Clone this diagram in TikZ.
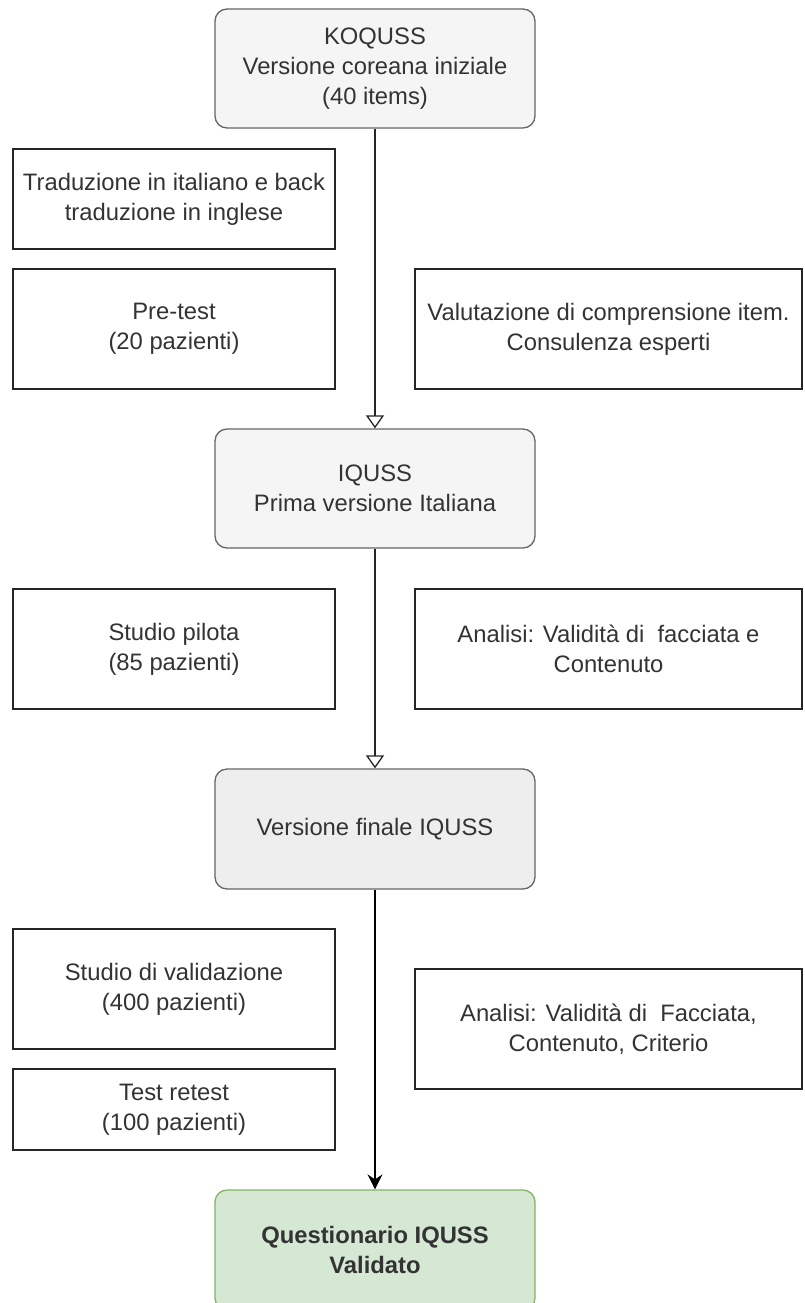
\documentclass[tikz,border=0pt]{standalone}
\usepackage{fontspec}
\setmainfont{Liberation Sans}
\usetikzlibrary{arrows.meta}
\definecolor{grayfill}{HTML}{F5F5F5}
\definecolor{grayfilldark}{HTML}{EEEEEE}
\definecolor{grayline}{HTML}{666666}
\definecolor{graytext}{HTML}{333333}
\definecolor{greenfill}{HTML}{D5E8D4}
\definecolor{greenline}{HTML}{82B366}
\begin{document}
\begin{tikzpicture}[
    x=1pt, y=-1pt,
    every node/.style = {align=center, inner sep=0pt, text=graytext, font=\fontsize{23.8}{30}\selectfont},
    mainbox/.style = {shape=rectangle, rounded corners=12pt, draw=grayline, fill=grayfill, line width=1.3pt, minimum width=320pt, minimum height=119pt},
    stepbox/.style = {shape=rectangle, draw=black!85, line width=1.3pt, minimum width=322pt, minimum height=120pt},
    sidebox/.style = {stepbox, minimum width=387pt},
    openarrow/.style = {draw=black!85, line width=1.3pt, -{Triangle[open, length=13pt, width=18pt]}},
    fullarrow/.style = {draw=black, line width=1.3pt, -{Stealth[length=15pt, width=15pt, inset=5pt]}}
  ]
\useasboundingbox (0,0) rectangle (805,1303);
% main line
\node[mainbox] (koquss) at (375,68.5) {KOQUSS\\Versione coreana iniziale\\(40 items)};
\node[mainbox] (iquss) at (375,488.5) {IQUSS\\Prima versione Italiana};
\node[mainbox, fill=grayfilldark, minimum height=120pt] (finale) at (375,829) {Versione finale IQUSS};
\node[mainbox, draw=greenline, fill=greenfill, minimum height=120pt, font=\fontsize{23.8}{30}\selectfont\bfseries] (validato) at (375,1250) {Questionario IQUSS\\Validato};
% side steps
\node[stepbox, minimum height=100pt] (traduzione) at (174,199) {Traduzione in italiano e back\\traduzione in inglese};
\node[stepbox] (pretest) at (174,329) {Pre-test\\(20 pazienti)};
\node[sidebox] (valutazione) at (608.5,329) {Valutazione di comprensione item.\\Consulenza esperti};
\node[stepbox] (pilota) at (174,649) {Studio pilota\\(85 pazienti)};
\node[sidebox] (analisi1) at (608.5,649) {Analisi: Validità di\ \ facciata e\\Contenuto};
\node[stepbox] (validazione) at (174,989) {Studio di validazione\\(400 pazienti)};
\node[stepbox, minimum height=81pt] (retest) at (174,1109.5) {Test retest\\(100 pazienti)};
\node[sidebox] (analisi2) at (608.5,1029) {Analisi: Validità di\ \ Facciata,\\Contenuto, Criterio};
% connectors
\draw[openarrow] (koquss) -- (iquss);
\draw[openarrow] (iquss) -- (finale);
\draw[fullarrow] (finale) -- (validato);
\end{tikzpicture}
\end{document}
